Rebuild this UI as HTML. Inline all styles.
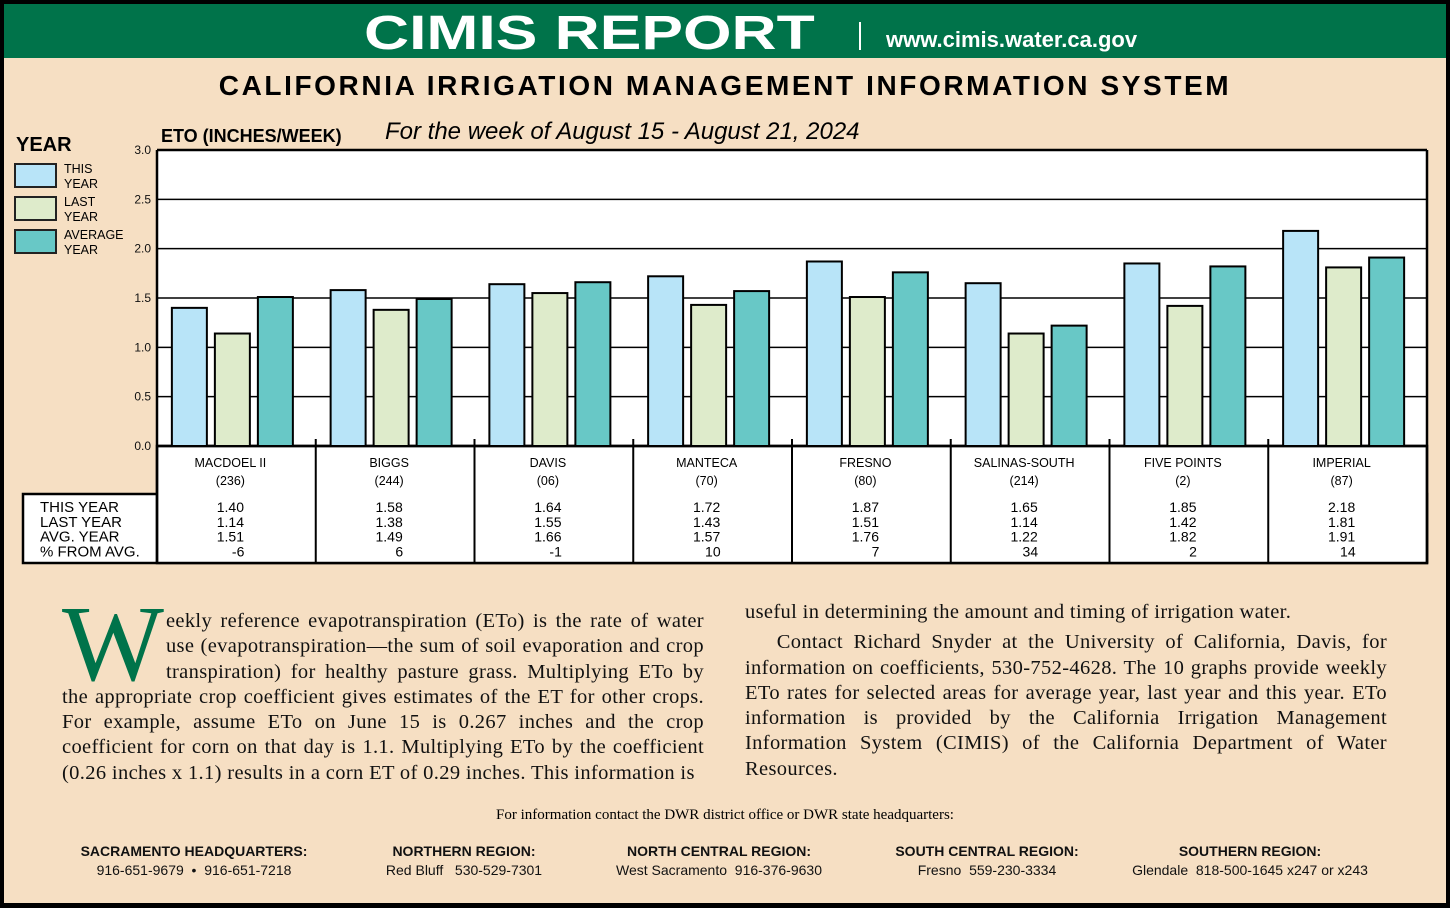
<!DOCTYPE html>
<html><head><meta charset="utf-8"><style>
body{margin:0;width:1450px;height:908px;overflow:hidden;background:#000;font-family:"Liberation Sans",sans-serif}
#page{position:absolute;left:4px;top:4px;width:1442px;height:899px;background:#f6dfc3}
.hdr{position:absolute;left:0;top:0;width:1442px;height:54px;background:#00734a;color:#fff}
.abs{position:absolute}
.body{font-family:"Liberation Serif",serif;font-size:20.5px;line-height:25.3px;letter-spacing:0.35px;color:#111;text-align:justify}
.ft{position:absolute;font-size:14px;line-height:19px;text-align:center;color:#111}
</style></head><body>
<div id="page">
<div class="hdr">
 <div class="abs" style="left:360px;top:2px;font-size:48px;font-weight:bold;transform:scaleX(1.3);transform-origin:left">CIMIS REPORT</div>
 <div class="abs" style="left:855px;top:18px;width:2px;height:28px;background:#fff"></div>
 <div class="abs" style="left:882px;top:23px;font-size:22px;font-weight:bold">www.cimis.water.ca.gov</div>
</div>
<div class="abs" style="left:0;width:1442px;top:66px;text-align:center;font-size:28px;font-weight:bold;letter-spacing:2.6px">CALIFORNIA IRRIGATION MANAGEMENT INFORMATION SYSTEM</div>
<div class="abs" style="left:381px;top:114px;font-size:24px;font-style:italic">For the week of August 15 - August 21, 2024</div>
<svg class="abs" style="left:-4px;top:-4px" width="1450" height="908" id="chart"></svg>
<div class="abs body" style="left:58px;top:605px;width:642px;height:180px"><span style="float:left;font-size:108px;line-height:80px;color:#00734a;margin:-4px 2px 0 0;height:78px;letter-spacing:0">W</span>eekly reference evapotranspiration (ETo) is the rate of water use (evapotranspiration—the sum of soil evaporation and crop transpiration) for healthy pasture grass. Multiplying ETo by the appropriate crop coefficient gives estimates of the ET for other crops. For example, assume ETo on June 15 is 0.267 inches and the crop coefficient for corn on that day is 1.1. Multiplying ETo by the coefficient (0.26 inches x 1.1) results in a corn ET of 0.29 inches. This information is</div>
<div class="abs body" style="left:741px;top:596px;width:642px">useful in determining the amount and timing of irrigation water.<div style="height:5px"></div>&nbsp;&nbsp;&nbsp;Contact Richard Snyder at the University of California, Davis, for information on coefficients, 530-752-4628. The 10 graphs provide weekly ETo rates for selected areas for average year, last year and this year. ETo information is provided by the California Irrigation Management Information System (CIMIS) of the California Department of Water Resources.</div>
<div class="abs" style="left:0;width:1442px;top:803px;text-align:center;font-family:'Liberation Serif',serif;font-size:15px">For information contact the DWR district office or DWR state headquarters:</div>
<div class="ft" style="left:60px;top:838px;width:260px"><b>SACRAMENTO HEADQUARTERS:</b><br>916-651-9679 &nbsp;•&nbsp; 916-651-7218</div>
<div class="ft" style="left:360px;top:838px;width:200px"><b>NORTHERN REGION:</b><br>Red Bluff &nbsp;&nbsp;530-529-7301</div>
<div class="ft" style="left:590px;top:838px;width:250px"><b>NORTH CENTRAL REGION:</b><br>West Sacramento &nbsp;916-376-9630</div>
<div class="ft" style="left:878px;top:838px;width:210px"><b>SOUTH CENTRAL REGION:</b><br>Fresno &nbsp;559-230-3334</div>
<div class="ft" style="left:1111px;top:838px;width:270px"><b>SOUTHERN REGION:</b><br>Glendale &nbsp;818-500-1645 x247 or x243</div>
</div>
<script>
const stations=["MACDOEL II","BIGGS","DAVIS","MANTECA","FRESNO","SALINAS-SOUTH","FIVE POINTS","IMPERIAL"];
const stationIds=["(236)","(244)","(06)","(70)","(80)","(214)","(2)","(87)"];
const thisYear=[1.40,1.58,1.64,1.72,1.87,1.65,1.85,2.18];
const lastYear=[1.14,1.38,1.55,1.43,1.51,1.14,1.42,1.81];
const avgYear=[1.51,1.49,1.66,1.57,1.76,1.22,1.82,1.91];
const pctFromAvg=["-6","6","-1","10","7","34","2","14"];
const yTicks=[0,0.5,1.0,1.5,2.0,2.5,3.0];
const svg=document.getElementById('chart');const NS='http://www.w3.org/2000/svg';
const L=157,R=1427,T=150,B=446;
const y=v=>B-(v/3)*(B-T);
const gw=(R-L)/8;const gx=i=>L+i*gw;
function mk(tag,a,txt){const e=document.createElementNS(NS,tag);for(const k in a)e.setAttribute(k,a[k]);if(txt!=null)e.textContent=txt;svg.appendChild(e);return e;}
let e=mk('rect',{x:L,y:T,width:R-L,height:B-T,fill:'#fff'});

yTicks.forEach(t=>{
 e=mk('line',{x1:L,x2:R,y1:y(t),y2:y(t),stroke:'#000','stroke-width':t==0||t==3?2.5:1.5});
 
 e=mk('text',{x:L-6,y:y(t)+4,'text-anchor':'end','font-size':12,fill:'#111'},t.toFixed(1));
 
});
e=mk('text',{x:161,y:142,'font-size':18,'font-weight':'bold'},'ETO (INCHES/WEEK)');

const cols=['#b8e4f8','#deebcb','#68c8c6'];const series=[thisYear,lastYear,avgYear];
const bw=35,gap=8;
for(let i=0;i<8;i++){
 const start=gx(i)+gw/2-(3*bw+2*gap)/2-4;
 series.forEach((s,j)=>{
  e=mk('rect',{x:start+j*(bw+gap),y:y(s[i]),width:bw,height:B-y(s[i]),fill:cols[j],stroke:'#000','stroke-width':2});
  
 });
 if(i>0){e=mk('line',{x1:gx(i),x2:gx(i),y1:B-7,y2:563,stroke:'#000','stroke-width':2});
  }
 const cx=gx(i)+gw/2-6;
 e=mk('text',{x:cx,y:467,'text-anchor':'middle','font-size':12.5},stations[i]);
 
 e=mk('text',{x:cx,y:485,'text-anchor':'middle','font-size':12.5},stationIds[i]);
 
 [thisYear[i].toFixed(2),lastYear[i].toFixed(2),avgYear[i].toFixed(2),pctFromAvg[i]].forEach((v,k)=>{
  e=mk('text',{x:k==3?cx+14:cx,y:512+k*14.8,'text-anchor':k==3?'end':'middle','font-size':14},v);
  
 });
}
e=mk('rect',{x:L,y:B,width:R-L,height:563-B,fill:'#fff',stroke:'#000','stroke-width':2.5});svg.insertBefore(e,svg.firstChild.nextSibling);
e=mk('rect',{x:23,y:494,width:R-23,height:69,fill:'#fff',stroke:'#000','stroke-width':2.5});svg.insertBefore(e,svg.firstChild.nextSibling);
e=mk('line',{x1:L,x2:L,y1:T,y2:563,stroke:'#000','stroke-width':2.5});
e=mk('line',{x1:R,x2:R,y1:T,y2:563,stroke:'#000','stroke-width':2.5});
["THIS YEAR","LAST YEAR","AVG. YEAR","% FROM AVG."].forEach((t,k)=>{
 e=mk('text',{x:40,y:512+k*14.8,'font-size':15},t);
});
e=mk('text',{x:16,y:151,'font-size':20,'font-weight':'bold'},'YEAR');
[["THIS","YEAR"],["LAST","YEAR"],["AVERAGE","YEAR"]].forEach((t,k)=>{
 const yy=164+k*33;
 e=mk('rect',{x:15,y:yy,width:41,height:23,fill:cols[k],stroke:'#222','stroke-width':2});
 e=mk('text',{x:64,y:yy+9,'font-size':12.5},t[0]);
 e=mk('text',{x:64,y:yy+24,'font-size':12.5},t[1]);
});
</script>
</body></html>
